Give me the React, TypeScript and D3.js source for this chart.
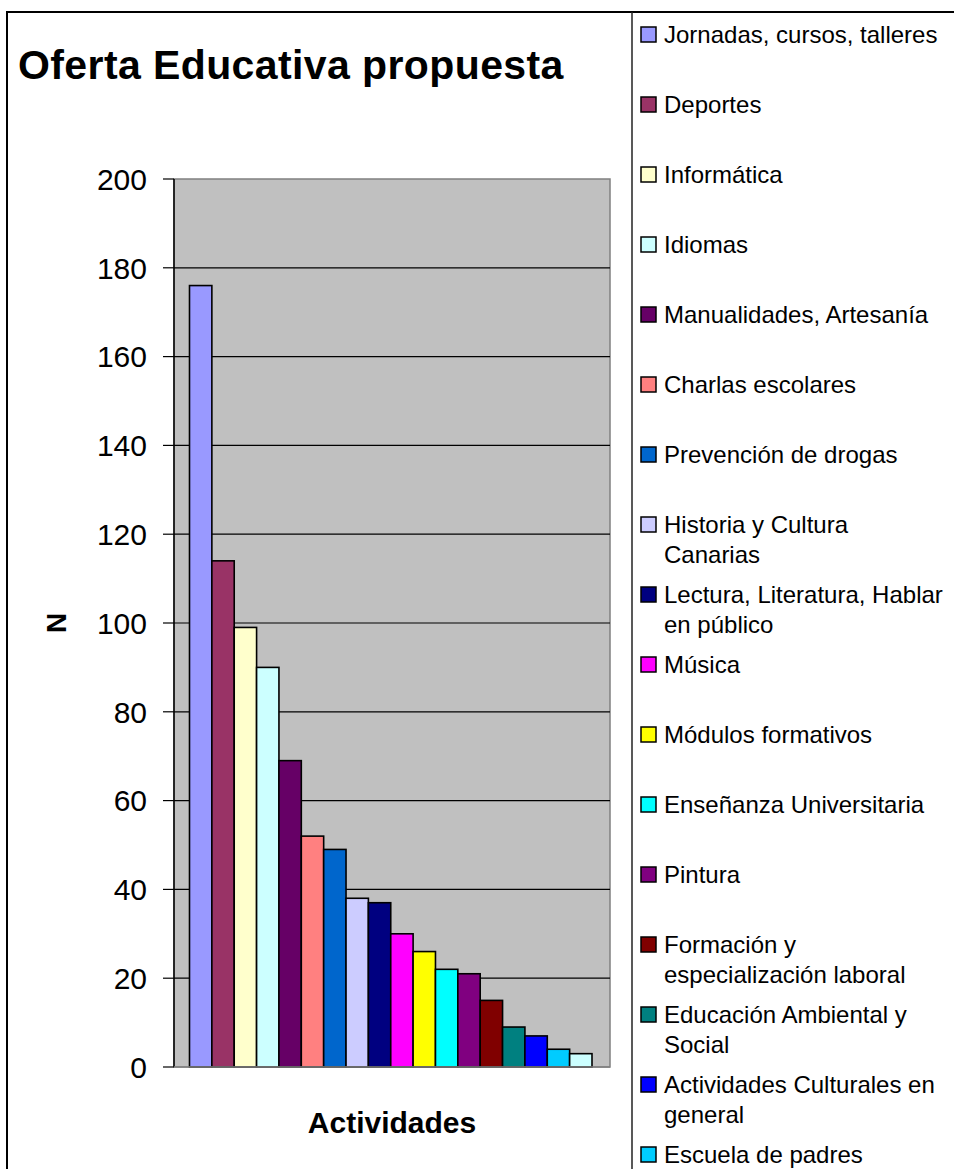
import React from "react";
import * as d3 from "d3";

const categories = [
  "Jornadas, cursos, talleres",
  "Deportes",
  "Informática",
  "Idiomas",
  "Manualidades, Artesanía",
  "Charlas escolares",
  "Prevención de drogas",
  "Historia y Cultura Canarias",
  "Lectura, Literatura, Hablar en público",
  "Música",
  "Módulos formativos",
  "Enseñanza Universitaria",
  "Pintura",
  "Formación y especialización laboral",
  "Educación Ambiental y Social",
  "Actividades Culturales en general",
  "Escuela de padres",
  "Otros",
];
const legendLines = [
  ["Jornadas, cursos, talleres"],
  ["Deportes"],
  ["Informática"],
  ["Idiomas"],
  ["Manualidades, Artesanía"],
  ["Charlas escolares"],
  ["Prevención de drogas"],
  ["Historia y Cultura", "Canarias"],
  ["Lectura, Literatura, Hablar", "en público"],
  ["Música"],
  ["Módulos formativos"],
  ["Enseñanza Universitaria"],
  ["Pintura"],
  ["Formación y", "especialización laboral"],
  ["Educación Ambiental y", "Social"],
  ["Actividades Culturales en", "general"],
  ["Escuela de padres"],
  ["Otros"],
];
const values = [176, 114, 99, 90, 69, 52, 49, 38, 37, 30, 26, 22, 21, 15, 9, 7, 4, 3];
const colors = [
  "#9999FF", "#993366", "#FFFFCC", "#CCFFFF", "#660066", "#FF8080", "#0066CC",
  "#CCCCFF", "#000080", "#FF00FF", "#FFFF00", "#00FFFF", "#800080", "#800000",
  "#008080", "#0000FF", "#00CCFF", "#CCFFFF",
];
const yTicks = [0, 20, 40, 60, 80, 100, 120, 140, 160, 180, 200];

const FONT = "'Liberation Sans', Arial, Helvetica, sans-serif";

export default function App() {
  const W = 954, H = 1169;
  const plot = { left: 174, right: 610, top: 179, bottom: 1067 };
  const y = d3.scaleLinear().domain([0, 200]).range([plot.bottom, plot.top]);
  const nBars = values.length;
  const x = d3.scaleBand<number>().domain(d3.range(nBars)).range([189.5, 592]).paddingInner(0);

  return (
    <svg width={W} height={H} style={{ position: "absolute", left: 0, top: 0, background: "#fff" }} fontFamily={FONT}>
      <rect x={7} y={12} width={1000} height={1200} fill="#fff" stroke="#000" strokeWidth={2} />
      <text x={18} y={79} fontSize={41} fontWeight="bold" letterSpacing={0.4} fill="#000">Oferta Educativa propuesta</text>

      {/* plot area */}
      <rect x={plot.left} y={plot.top} width={plot.right - plot.left} height={plot.bottom - plot.top} fill="#C0C0C0" stroke="#808080" strokeWidth={1.5} />
      {yTicks.filter(t => t > 0 && t < 200).map(t => (
        <line key={"g" + t} x1={plot.left} x2={plot.right} y1={y(t)} y2={y(t)} stroke="#000" strokeWidth={1.2} />
      ))}
      {/* bars */}
      {values.map((v, i) => (
        <rect key={i} x={x(i)} y={y(v)} width={x.bandwidth()} height={y(0) - y(v)} fill={colors[i]} stroke="#000" strokeWidth={1.6} />
      ))}
      {/* axes */}
      <line x1={plot.left} x2={plot.left} y1={plot.top} y2={plot.bottom} stroke="#000" strokeWidth={1.5} />
      <line x1={plot.left} x2={plot.right} y1={plot.bottom} y2={plot.bottom} stroke="#808080" strokeWidth={1.5} />
      {yTicks.map(t => (
        <g key={"t" + t}>
          <line x1={163} x2={plot.left} y1={y(t)} y2={y(t)} stroke="#000" strokeWidth={1.2} />
          <text x={147} y={y(t)} dy="0.36em" textAnchor="end" fontSize={30} fill="#000">{t}</text>
        </g>
      ))}
      <text transform={`translate(66,${(plot.top + plot.bottom) / 2}) rotate(-90)`} textAnchor="middle" fontSize={28} fontWeight="bold" fill="#000">N</text>
      <text x={392} y={1133} textAnchor="middle" fontSize={30} fontWeight="bold" fill="#000">Actividades</text>

      {/* legend */}
      <line x1={632} x2={632} y1={12} y2={H + 20} stroke="#222" strokeWidth={1.5} />
      {legendLines.map((lines, i) => {
        const base = 43 + i * 70;
        return (
          <g key={"l" + i}>
            <rect x={641} y={base - 16} width={15} height={15} fill={colors[i]} stroke="#000" strokeWidth={1.5} />
            {lines.map((ln, j) => (
              <text key={j} x={664} y={base + j * 30} fontSize={24} fill="#000">{ln}</text>
            ))}
          </g>
        );
      })}
    </svg>
  );
}
